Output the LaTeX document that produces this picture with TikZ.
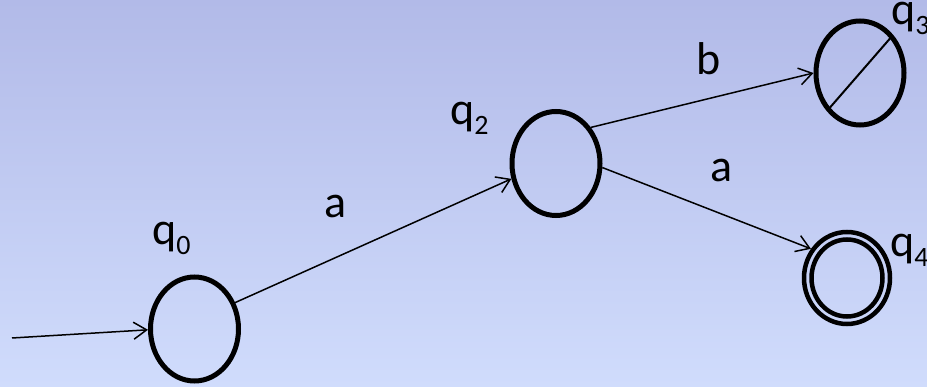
\documentclass[tikz,border=0pt]{standalone}
\usepackage{fontspec}
\setmainfont{Carlito}
\usetikzlibrary{shapes.geometric,arrows.meta}
\definecolor{bgtop}{RGB}{178,186,232}
\definecolor{bgbot}{RGB}{208,220,252}
\newcommand{\qsub}[1]{q\raisebox{-10pt}{\fontsize{28}{30}\selectfont #1}}
\begin{document}
\begin{tikzpicture}[x=1pt,y=-1pt,
  state/.style={ellipse, draw, line width=5pt, inner sep=0pt, minimum width=88pt, minimum height=104pt},
  trans/.style={line width=1.5pt, -{Straight Barb[length=13pt,width=17pt,line width=1.5pt]}},
  lbl/.style={font=\fontsize{46}{50}\selectfont, inner sep=0pt},
]
\useasboundingbox (0,0) rectangle (927,387);
\clip (0,0) rectangle (927,387);
\shade[top color=bgtop, bottom color=bgbot] (0,0) rectangle (927,387);

\node[state] (q0) at (194.5,329) {};
\node[state] (q2) at (556,163.5) {};
\node[state] (q3) at (860,73) {};
\node[ellipse, draw, line width=4.5pt, inner sep=0pt, minimum width=86pt, minimum height=92pt] (q4) at (847,278) {};
\draw[line width=4.5pt] (q4.center) ellipse [x radius=35.5, y radius=38.5];
\draw[line width=2pt, shorten <=4pt, shorten >=4pt] (q3.229) -- (q3.49);

\node[lbl, anchor=base west] (lq0) at (152,245) {\qsub{0}};
\node[lbl, anchor=base west] (lq2) at (450,125) {\qsub{2}};
\node[lbl, anchor=base west] (lq3) at (891,25) {\qsub{3}};
\node[lbl, anchor=base west] (lq4) at (890,257) {\qsub{4}};
\node[lbl, anchor=base] (la1) at (336,218) {a};
\node[lbl, anchor=base] (lb) at (709,75) {b};
\node[lbl, anchor=base] (la2) at (722,182) {a};

\coordinate (init) at (12,338);
\draw[trans] (init) -- (q0.181);
\draw[trans, shorten <=-4pt] (q0.33) -- (q2.199);
\draw[trans] (q2.46) -- (q3.180);
\draw[trans] (q2.-5) -- (q4.141);
\end{tikzpicture}
\end{document}
